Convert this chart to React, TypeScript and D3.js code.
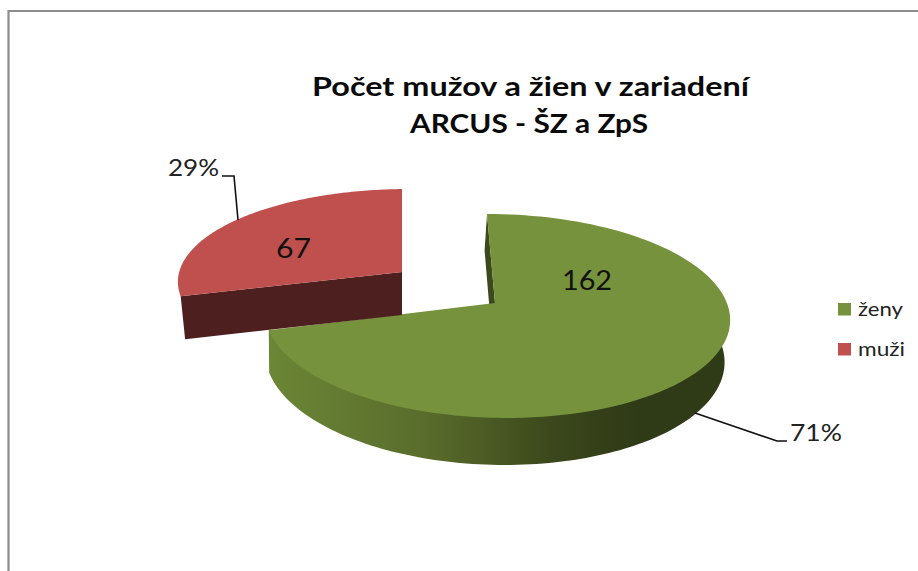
import * as d3 from "d3";

const categories = ["ženy", "muži"];
const counts = [162, 67];
const percentLabels = ["71%", "29%"];
const colors = ["#76923c", "#c0504d"];
const titleLines = ["Počet mužov a žien v zariadení", "ARCUS - ŠZ a ZpS"];
const titleWidths = [437, 238];
const legendWidths = [45, 47];

const W = 918, H = 571;
const FONT = "Lato, 'Open Sans', sans-serif";

// perspective of each slice's disc, fitted by eye
interface View { ex: number; ey: number; a: number; b: number; f: number; c: number; d: number; depth: number; lower: number; lowerX: number; }
const greenView: View = { ex: 495, ey: 303, a: 230.5, b: 9, f: 100.3, c: -0.1275, d: -0.006, depth: 41, lower: 0.987, lowerX: 300 };
const redView: View = { ex: 402, ey: 272, a: 229.5, b: 0, f: 92, c: -0.109, d: -0.03, depth: 43, lower: 0.98, lowerX: 402 };

function project(view: View, angle: number, r: number): [number, number] {
  const u = Math.sin(angle) * r, v = -Math.cos(angle) * r;
  const w = 1 + view.c * v + view.d * u;
  return [view.ex + (view.a * u + view.b * v) / w, view.ey + (view.f * v) / w];
}

function projectLow(view: View, angle: number, r: number): [number, number] {
  const [x, y] = project(view, angle, r);
  const u = Math.sin(angle) * r, v = -Math.cos(angle) * r;
  const w = 1 + view.c * v + view.d * u;
  return [view.lowerX + (x - view.lowerX) * view.lower, y + view.depth / w];
}

const line = d3.line<[number, number]>();
const sweep = (a0: number, a1: number) => d3.range(0, 121).map(i => a0 + ((a1 - a0) * i) / 120);

export default function App() {
  const arcs = d3.pie<number>().sort(null)(counts);
  const green = arcs[0], red = arcs[1];

  const greenTop = [project(greenView, 0, 0), ...sweep(green.startAngle, green.endAngle).map(a => project(greenView, a, 1))];
  const redTop = [project(redView, 0, 0), ...sweep(red.startAngle, red.endAngle).map(a => project(redView, a, 1))];

  // outer wall of the green slice, from the right edge round to the cut
  // upper edge runs a bit under the top face so no white seam shows
  const wallAngles = sweep(Math.PI * 0.47, green.endAngle);
  const greenWall = [
    ...wallAngles.map(a => project(greenView, a, 0.98)),
    project(greenView, green.endAngle, 1),
    ...wallAngles.slice().reverse().map(a => projectLow(greenView, a, 1)),
  ];
  const greenCut = [project(greenView, 0, 1), project(greenView, 0, 0), projectLow(greenView, 0, 0), projectLow(greenView, 0, 1)];
  const redCut = [project(redView, 0, 0), project(redView, red.startAngle, 1), projectLow(redView, red.startAngle, 1), projectLow(redView, 0, 0)];

  return (
    <svg width={W} height={H} style={{ position: "fixed", left: 0, top: 0, display: "block", background: "#fff" }} fontFamily={FONT}>
      <defs>
        <linearGradient id="greenSide" gradientUnits="userSpaceOnUse" x1={270} x2={729} y1={0} y2={0}>
          <stop offset="0" stopColor="#6b8636" />
          <stop offset="0.33" stopColor="#5a6d2c" />
          <stop offset="0.63" stopColor="#3a461b" />
          <stop offset="0.8" stopColor="#2f3a17" />
          <stop offset="1" stopColor="#2f3a17" />
        </linearGradient>
      </defs>

      <path d="M8.5,571V11H918" fill="none" stroke="#8c8c8c" strokeWidth={2.2} />

      {titleLines.map((t, i) => (
        <text key={t} x={530.5 - (i * 1.5)} y={96 + i * 37} textAnchor="middle" fontWeight={700} fontSize={27} fill="#0a0a0a" textLength={titleWidths[i]} lengthAdjust="spacingAndGlyphs">{t}</text>
      ))}

      <path d={line(greenCut)!} fill="#3a4a1c" />
      <path d={line(greenWall)!} fill="url(#greenSide)" />
      <path d={line(greenTop)! + "Z"} fill={colors[0]} />

      <path d={line(redCut)! + "Z"} fill="#4d1f1f" />
      <path d={line(redTop)! + "Z"} fill={colors[1]} />

      <text x={293.5} y={258} textAnchor="middle" fontSize={27} fill="#111" textLength={35} lengthAdjust="spacingAndGlyphs">{counts[1]}</text>
      <text x={587} y={290} textAnchor="middle" fontSize={27} fill="#111" textLength={50} lengthAdjust="spacingAndGlyphs">{counts[0]}</text>

      <path d="M222,176H234L238,220" fill="none" stroke="#111" strokeWidth={1.6} />
      <path d="M695,413L777,441H787" fill="none" stroke="#111" strokeWidth={1.6} />
      <text x={219} y={176} textAnchor="end" fontSize={23} fill="#222" textLength={51} lengthAdjust="spacingAndGlyphs">{percentLabels[1]}</text>
      <text x={790} y={441} fontSize={23} fill="#222" textLength={52} lengthAdjust="spacingAndGlyphs">{percentLabels[0]}</text>

      {categories.map((c, i) => (
        <g key={c}>
          <rect x={838} y={303 + i * 40} width={13} height={12.5} fill={colors[i]} />
          <text x={858} y={316 + i * 40} fontSize={19} fill="#222" textLength={legendWidths[i]} lengthAdjust="spacingAndGlyphs">{c}</text>
        </g>
      ))}
    </svg>
  );
}
